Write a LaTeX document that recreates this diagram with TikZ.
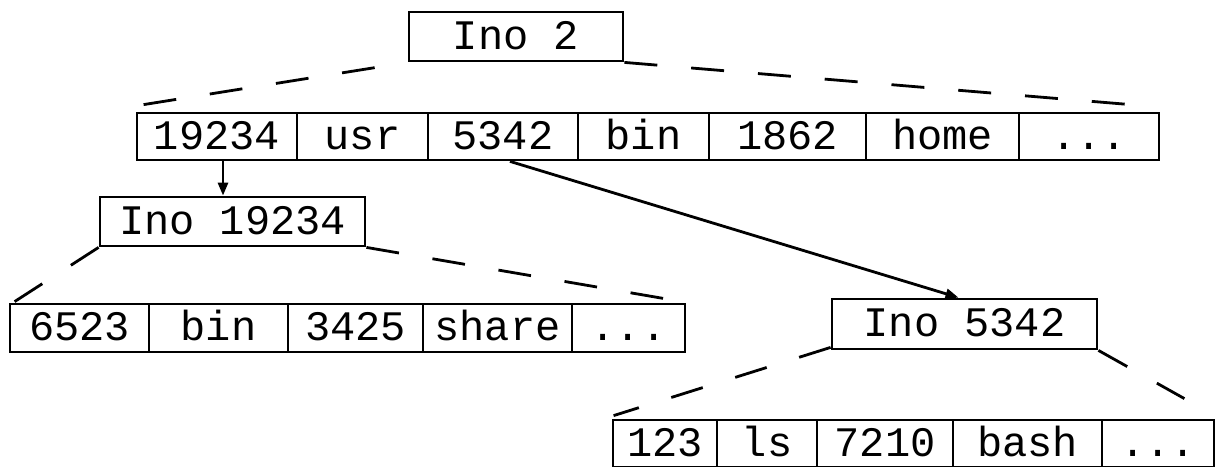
\documentclass[tikz,border=0pt]{standalone}
\usepackage{fontspec}
\newfontfamily\dirmono{Liberation Mono}
\usetikzlibrary{arrows.meta}
\tikzset{
  box/.style={draw, line width=2.8pt, inner sep=0pt, anchor=center,
    font=\dirmono\fontsize{42}{50}\selectfont, text height=25pt, text depth=0pt},
  inode/.style={box, minimum height=49pt},
  cellbox/.style={box, minimum height=47pt},
  link/.style={line width=2.8pt, dash pattern=on 33pt off 34pt},
  pointer/.style={line width=2.8pt, -{Triangle[length=13pt,width=10pt]}}
}
\begin{document}
\begin{tikzpicture}[x=1pt, y=-1pt]
\useasboundingbox (0,0) rectangle (1215,466);

% root directory inode and its entries
\node[inode, minimum width=214pt] (ino2) at (516,36.5) {Ino 2};
\node[cellbox, minimum width=160pt] (r1a) at (217,136.5)   {19234};
\node[cellbox, minimum width=131pt] (r1b) at (362.5,136.5) {usr};
\node[cellbox, minimum width=150pt] (r1c) at (503,136.5)   {5342};
\node[cellbox, minimum width=131pt] (r1d) at (643.5,136.5) {bin};
\node[cellbox, minimum width=157pt] (r1e) at (787.5,136.5) {1862};
\node[cellbox, minimum width=153pt] (r1f) at (942.5,136.5) {home};
\node[cellbox, minimum width=140pt] (r1g) at (1089,136.5)  {...};

% /usr inode and its entries
\node[inode, minimum width=265pt] (ino19234) at (232.5,221.5) {Ino 19234};
\node[cellbox, minimum width=139pt, minimum height=48pt] (r2a) at (79.5,328)  {6523};
\node[cellbox, minimum width=139pt, minimum height=48pt] (r2b) at (218.5,328) {bin};
\node[cellbox, minimum width=135pt, minimum height=48pt] (r2c) at (355.5,328) {3425};
\node[cellbox, minimum width=149pt, minimum height=48pt] (r2d) at (497.5,328) {share};
\node[cellbox, minimum width=113pt, minimum height=48pt] (r2e) at (628.5,328) {...};

% /bin inode and its entries
\node[inode, minimum width=265pt, minimum height=50pt] (ino5342) at (964.5,324) {Ino 5342};
\node[cellbox, minimum width=104pt] (r3a) at (665,443.5)    {123};
\node[cellbox, minimum width=100pt] (r3b) at (767,443.5)    {ls};
\node[cellbox, minimum width=136pt] (r3c) at (885,443.5)    {7210};
\node[cellbox, minimum width=149pt] (r3d) at (1027.5,443.5) {bash};
\node[cellbox, minimum width=112pt] (r3e) at (1158,443.5)   {...};

% dashed fans from each inode to its data block
\draw[link] ([shift={(8,-7)}]r1a.north west) -- (ino2.south west);
\draw[link] (ino2.south east) -- ([shift={(-30,-7)}]r1g.north east);
\draw[link] (ino19234.south west) -- ([shift={(6,-1)}]r2a.north west);
\draw[link] (ino19234.south east) -- ([shift={(-22,-4)}]r2e.north east);
\draw[link] ([yshift=3pt]ino5342.south west) -- ([shift={(2,-3)}]r3a.north west);
\draw[link] (ino5342.south east) -- ([shift={(-31,-20)}]r3e.north east);

% inode number pointers
\draw[pointer] ([xshift=6pt]r1a.south) -- ([xshift=6pt]r1a.south |- ino19234.north);
\draw[pointer] ([xshift=7pt]r1c.south) -- ([xshift=-6pt]ino5342.north);
\end{tikzpicture}
\end{document}
